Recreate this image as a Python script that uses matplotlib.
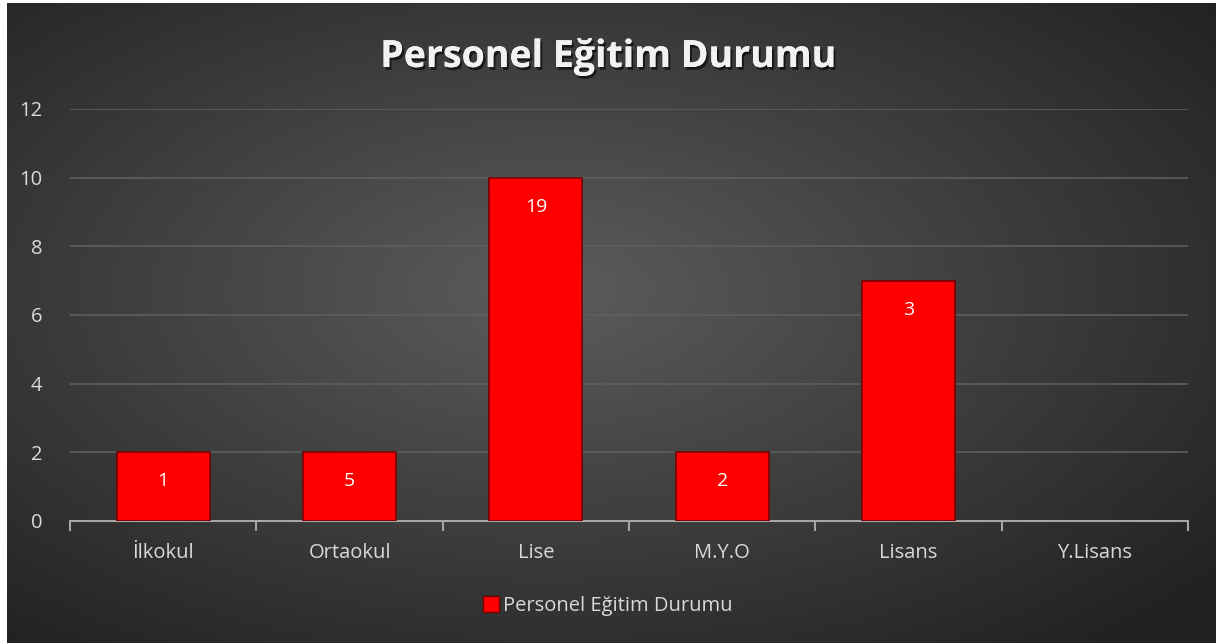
import numpy as np
import matplotlib
matplotlib.use("Agg")
import matplotlib.pyplot as plt
import matplotlib.patheffects as pe
from matplotlib.patches import Patch

# data
categories = ["İlkokul", "Ortaokul", "Lise", "M.Y.O", "Lisans", "Y.Lisans"]
bar_heights = [2, 2, 10, 2, 7, 0]
bar_labels = ["1", "5", "19", "2", "3", ""]
y_ticks = [0, 2, 4, 6, 8, 10, 12]
title = "Personel Eğitim Durumu"

plt.rcParams['font.family'] = ['Open Sans', 'DejaVu Sans']

W, H = 1216, 643
fig = plt.figure(figsize=(W / 100, H / 100), dpi=100, facecolor="white")

# background: radial dark gradient, with a thin white strip left/top
bg = fig.add_axes([7 / W, 0, 1 - 7 / W, 1 - 3 / H])
yy, xx = np.mgrid[0:1:400j, 0:1:800j]
r = np.sqrt(((xx - 0.45) / 0.75) ** 2 + ((yy - 0.45) / 0.75) ** 2)
shade = np.clip(0.36 - 0.24 * r, 0.13, 0.36)
bg.imshow(np.dstack([shade] * 3), aspect="auto", extent=[0, 1, 0, 1])
bg.set_axis_off()

ax = fig.add_axes([70 / W, 122 / H, 1118 / W, 412 / H])
ax.set_facecolor("none")

x = np.arange(len(categories))
bars = ax.bar(x, bar_heights, width=0.5, color="#ff0000",
              edgecolor="#7a0000", linewidth=1.2, zorder=3)
for b, h, lab in zip(bars, bar_heights, bar_labels):
    if h == 0:
        b.set_linewidth(0)
    if not lab:
        continue
    ax.annotate(lab, (b.get_x() + b.get_width() / 2, b.get_height()),
                xytext=(0, -21), textcoords="offset points",
                ha="center", va="center", color="white", fontsize=14, zorder=4)

ax.set_xlim(-0.5, len(categories) - 0.5)
ax.set_ylim(0, 12)
ax.set_yticks(y_ticks)
ax.set_yticklabels([str(v) for v in y_ticks])
ax.grid(axis="y", color="#5e5e5e", linewidth=1.2, zorder=0)
ax.set_axisbelow(True)

ax.set_xticks(x)
ax.set_xticklabels(categories)
ax.set_xticks(np.arange(-0.5, len(categories)), minor=True)
ax.tick_params(axis="x", which="major", length=0, pad=16, labelsize=14.5,
               labelcolor="#d9d9d9")
ax.tick_params(axis="x", which="minor", length=7, width=1.5, color="#a6a6a6",
               direction="out")
ax.tick_params(axis="y", length=0, pad=20, labelsize=14.5, labelcolor="#d9d9d9")

for side in ["top", "right", "left"]:
    ax.spines[side].set_visible(False)
ax.spines["bottom"].set_color("#a6a6a6")
ax.spines["bottom"].set_linewidth(1.5)

fig.text(0.5, 1 - 57 / H, title, ha="center", va="center", color="#f2f2f2",
         fontsize=27, fontweight="bold",
         path_effects=[pe.withSimplePatchShadow(offset=(1.5, -2), shadow_rgbFace="black", alpha=0.6),
                       pe.Normal()])

handle = Patch(facecolor="#ff0000", edgecolor="#7a0000")
fig.legend([handle], [title], loc="center", bbox_to_anchor=(0.5, 1 - 606 / H),
           frameon=False, fontsize=14.5, labelcolor="#d9d9d9",
           handlelength=0.8, handleheight=0.8, handletextpad=0.2)

fig.savefig("out.png", dpi=100, facecolor="white")
